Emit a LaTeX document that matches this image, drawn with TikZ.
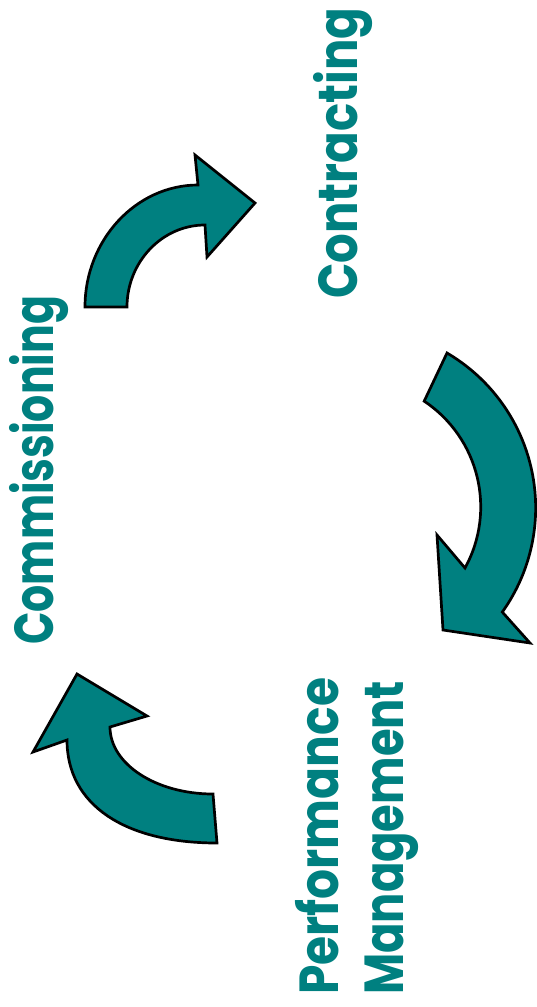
\documentclass[tikz,border=0pt]{standalone}
\usepackage{fontspec}
\usepackage{graphicx}
\setmainfont{Poppins}
\definecolor{arrowteal}{RGB}{0,128,128}
\newcommand\fitlen[2]{\resizebox{#1}{\height}{#2}}
\begin{document}
\begin{tikzpicture}[x=1pt,y=-1pt,
  arrowshape/.style={fill=arrowteal, draw=black, line width=2.7pt, line join=miter},
  txt/.style={text=arrowteal, font=\fontsize{55}{65}\selectfont\bfseries, rotate=90, inner sep=0pt, align=left, anchor=base west}]
\useasboundingbox (0,0) rectangle (536,1007);
% arrows
\path[arrowshape] (85,307) .. controls (85,240) and (136,185) .. (198,185) -- (195,155) -- (255,203) -- (207,257) -- (205,225) .. controls (162,225) and (127,262) .. (127,307) -- cycle;
\path[arrowshape] (447,353) arc[start angle=-59.6, end angle=35.5, radius=179.5] -- (530,643) -- (443,630) -- (437,535) -- (465,568) arc[start angle=28.8, end angle=-56.3, radius=127] -- cycle;
\path[arrowshape] (213,794) .. controls (156,794) and (110,764) .. (110,727) -- (147,716) -- (77,674) -- (33,752) -- (67,740) .. controls (67,805) and (125,843) .. (217,843) -- cycle;
% labels
\node[txt] (contracting) at (357,299) {\fitlen{291pt}{Contracting}};
\node[txt] (commissioning) at (53,645) {\fitlen{349pt}{Commissioning}};
\node[txt] (perf) at (403,995) {\fitlen{317pt}{Performance}\\\fitlen{314pt}{Management}};
\end{tikzpicture}
\end{document}
